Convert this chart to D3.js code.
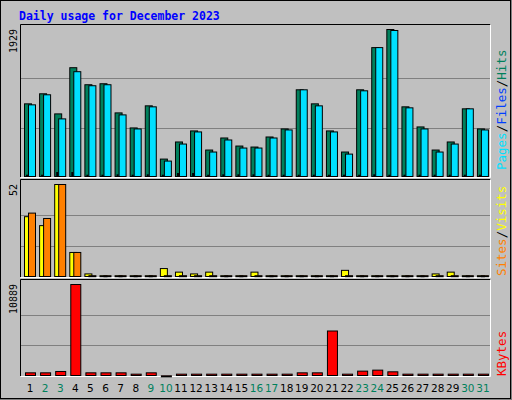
<!DOCTYPE html>
<html><head><meta charset="utf-8">
<script src="https://cdn.jsdelivr.net/npm/d3@7"></script>
<style>body{margin:0;background:#fff}</style>
</head><body><svg id="chart" width="512" height="400"></svg>
<script>
const days = d3.range(1, 32);
const weekend = [2, 3, 9, 10, 16, 17, 23, 24, 30, 31];
const hits = [960,1091,829,1431,1209,1222,842,646,934,240,463,607,358,515,410,397,528,633,1143,960,607,332,1143,1693,1929,921,659,358,463,895,633];
const pages = [947,1078,764,1379,1196,1209,816,633,921,214,436,594,332,489,384,384,515,620,1143,934,594,305,1130,1693,1916,908,633,332,436,895,620];
const files = [30,30,65,65,30,30,35,30,35,30,52,52,30,35,35,35,30,30,30,30,30,30,30,35,30,30,30,30,30,30,30];
const visits = [34,29,52,14,2,1,1,1,1,5,3,2,3,1,1,3,1,1,1,1,1,4,1,1,1,1,1,2,3,1,1];
const sites = [36,33,52,14,1,1,1,1,1,1,1,1,1,1,1,1,1,1,1,1,1,1,1,1,1,1,1,1,1,1,1];
const kbytes = [435,435,594,10889,435,435,435,277,435,80,277,277,277,277,277,277,277,277,435,435,5385,277,634,752,554,277,277,277,277,277,277];

const svg = d3.select('#chart');
svg.append('rect').attr('width', 512).attr('height', 400).attr('fill', '#c0c0c0');
svg.append('path').attr('d', 'M511,0V399H0').attr('stroke', '#808080').attr('stroke-width', 2).attr('fill', 'none');
svg.append('rect').attr('x', 0.5).attr('y', 0.5).attr('width', 510).attr('height', 398).attr('fill', 'none').attr('stroke', '#000');

svg.append('text').attr('x', 19).attr('y', 20).text('Daily usage for December 2023')
	.attr('font-family', 'DejaVu Sans Mono').attr('font-weight', 'bold').attr('font-size', 11.5).attr('fill', '#0000ff');

const x = d3.scaleBand().domain(days).range([24, 489]).paddingInner(0.2);

const panels = [
	{ top: 25, bottom: 177, max: 1929 },
	{ top: 180, bottom: 277, max: 52 },
	{ top: 280, bottom: 376, max: 10889 }
];
panels.forEach(p => {
	p.y = d3.scaleLinear().domain([0, p.max]).range([p.bottom, p.top + 4]);
	svg.append('path').attr('d', `M20.5,${p.bottom}V${p.top - 0.5}H490.5`).attr('stroke', '#000').attr('fill', 'none');
	svg.append('path').attr('d', `M20.5,${p.bottom + 0.5}H490.5V${p.top - 0.5}`).attr('stroke', '#fff').attr('fill', 'none');
	[1 / 3, 2 / 3].forEach(f => {
		svg.append('line').attr('x1', 21).attr('x2', 490)
			.attr('y1', Math.round(p.y(p.max * f)) + 0.5).attr('y2', Math.round(p.y(p.max * f)) + 0.5)
			.attr('stroke', '#808080');
	});
	svg.append('text').attr('transform', `translate(17,${p.top + 4}) rotate(-90)`)
		.attr('text-anchor', 'end').attr('font-family', 'DejaVu Sans Mono').attr('font-size', 10)
		.text(p.max);
});

function bars(data, p, dx, w, color) {
	svg.append('g').selectAll('rect').data(data).join('rect')
		.attr('x', (d, i) => x(days[i]) + dx + 0.5)
		.attr('y', d => p.y(d) + 0.5)
		.attr('width', w)
		.attr('height', d => Math.max(1, p.bottom - p.y(d) - 1))
		.attr('fill', color).attr('stroke', '#000');
}
bars(hits, panels[0], 0, 7, '#00805c');
bars(pages, panels[0], 4, 7, '#00e0ff');
bars(files, panels[0], 2, 1, '#0040ff');
bars(visits, panels[1], 0, 7, '#ffff00');
bars(sites, panels[1], 4, 7, '#ff8000');
bars(kbytes, panels[2], 1, 10, '#ff0000');

svg.append('g').selectAll('text').data(days).join('text')
	.attr('x', d => x(d) + x.bandwidth() / 2).attr('y', 392)
	.attr('text-anchor', 'middle').attr('font-family', 'DejaVu Sans').attr('font-size', 10.5)
	.attr('fill', d => weekend.includes(d) ? '#00805c' : '#000')
	.text(d => d);

function sideLabel(parts, yBottom) {
	const t = svg.append('text').attr('transform', `translate(506,${yBottom}) rotate(-90)`)
		.attr('font-family', 'DejaVu Sans Mono').attr('font-size', 12.5);
	parts.forEach(([s, c]) => t.append('tspan').attr('fill', c).text(s));
}
sideLabel([['Pages', '#00e0ff'], ['/', '#000'], ['Files', '#0040ff'], ['/', '#000'], ['Hits', '#00805c']], 170);
sideLabel([['Sites', '#ff8000'], ['/', '#000'], ['Visits', '#ffff00']], 276);
sideLabel([['KBytes', '#ff0000']], 376);
</script></body></html>
